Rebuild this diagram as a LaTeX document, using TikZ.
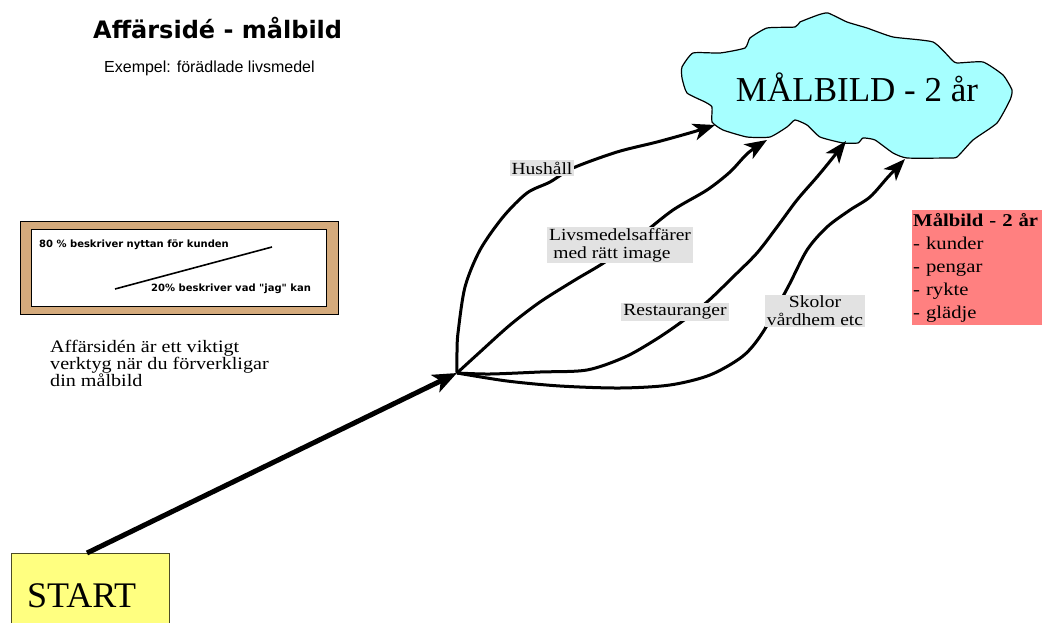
\documentclass[tikz,border=0pt]{standalone}
\usepackage{fontspec}
\setmainfont{Liberation Serif}
\newfontfamily\pal[FakeStretch=1.15]{Liberation Serif}
\newfontfamily\ttlfont{DejaVu Sans}
\newfontfamily\arialf{Liberation Sans}
\usetikzlibrary{arrows.meta}
\definecolor{cloudc}{RGB}{166,255,255}
\definecolor{tanc}{RGB}{212,170,124}
\definecolor{yelc}{RGB}{255,255,128}
\definecolor{redc}{RGB}{255,128,128}
\definecolor{lblc}{RGB}{226,226,226}
\tikzset{
  lbl/.style={fill=lblc, inner xsep=2pt, inner ysep=1.5pt, font=\pal\fontsize{17}{18}\selectfont},
  curvarrow/.style={line width=3pt, line join=round, -{Stealth[length=22pt,width=17pt,inset=6pt]}},
  mainarrow/.style={line width=5pt, -{Stealth[length=24pt,width=19pt,inset=6pt]}},
  framefont/.style={font=\ttlfont\bfseries\fontsize{10}{11}\selectfont},
  plain/.style={inner sep=0pt}
}
\begin{document}
\begin{tikzpicture}[x=1pt,y=-1pt]
\useasboundingbox (0,0) rectangle (1043,623);
% title
\node[plain, anchor=base west, font=\ttlfont\bfseries\fontsize{24}{26}\selectfont] (title) at (93,39) {Affärsidé - målbild};
\node[plain, anchor=base west, font=\arialf\fontsize{16}{18}\selectfont] (ex) at (104,73) {Exempel: förädlade livsmedel};
% frame
\draw[fill=tanc, line width=0.8pt] (20,221) rectangle (338,314);
\draw[fill=white, line width=0.8pt] (31,229) rectangle (326,306);
\node[plain, anchor=base west, framefont] (f1) at (39,247) {80 \% beskriver nyttan för kunden};
\node[plain, anchor=base west, framefont] (f2) at (151,291) {20\% beskriver vad "jag" kan};
\coordinate (la) at (115,289);
\coordinate (lb) at (272,247);
\draw[line width=1.6pt] (la) -- (lb);
% note
\node[plain, anchor=north west, align=left, font=\pal\fontsize{17.5}{17}\selectfont] (note) at (50,340) {Affärsidén är ett viktigt\\verktyg när du förverkligar\\din målbild};
% start box
\node[plain, draw=black!70!yelc, fill=yelc, line width=0.6pt, anchor=north west, minimum width=158pt, minimum height=80pt] (startbox) at (11,553) {};
\node[plain, anchor=base west, font=\fontsize{36}{38}\selectfont] (start) at (27,607) {START};
% cloud
\draw[fill=cloudc, line width=1.2pt, line join=round] plot[smooth cycle, tension=0.3] coordinates {
(682,67) (693,53) (720,53) (745,48) (750,38) (767,28) (795,27) (800,22) (818,15) (828,13) (847,22) (867,28) (893,37) (933,42) (952,60) (957,63) (983,62) (1003,75) (1012,90) (1010,100) (997,123) (973,140) (957,157) (947,158) (907,158) (893,153) (875,140) (863,138) (858,143) (843,143) (820,137) (807,125) (795,120) (787,127) (770,137) (747,137) (723,130) (712,122) (712,107) (705,102) (687,93) (682,78)};
\node[plain, anchor=base, font=\fontsize{35}{37}\selectfont] (goal) at (857,102) {MÅLBILD - 2 år};
% hub and tips
\coordinate (hub) at (457,373);
\coordinate (t1) at (715,125);
\coordinate (t2) at (767,140);
\coordinate (t3) at (846,141);
\coordinate (t4) at (905,159);
\draw[mainarrow] (startbox.north west) ++(76,0) coordinate (sa) -- (hub);
\draw[curvarrow] plot[smooth, tension=0.5] coordinates {(hub) (457,352) (458,333) (465,287) (480,250) (503,217) (527,193) (550,182) (573,168) (617,152) (657,142) (693,132) (t1)};
\draw[curvarrow] plot[smooth, tension=0.5] coordinates {(hub) (480,352) (510,325) (540,302) (575,280) (605,262) (640,236) (673,210) (707,190) (730,172) (748,153) (t2)};
\draw[curvarrow] plot[smooth, tension=0.5] coordinates {(hub) (490,374) (540,372) (587,370) (625,357) (655,340) (680,323) (707,302) (733,277) (757,253) (777,227) (797,200) (817,177) (831,160) (t3)};
\draw[curvarrow] plot[smooth, tension=0.5] coordinates {(hub) (507,381) (560,386) (620,388) (670,385) (710,375) (743,356) (763,332) (788,287) (807,250) (827,227) (850,210) (870,197) (888,177) (t4)};
% labels
\node[lbl] (l1) at (542,168) {Hushåll};
\node[lbl, align=left] (l2) at (620,245) {Livsmedelsaffärer\\\hspace{0.25em}med rätt image};
\node[lbl] (l3) at (675,312) {Restauranger};
\node[lbl, align=center] (l4) at (815,311) {Skolor\\vårdhem etc};
% red box
\node[fill=redc, anchor=north west, inner xsep=1pt, inner ysep=3pt, text width=128pt, align=left, font=\pal\fontsize{18}{23}\selectfont] (goalbox) at (912,210) {\textbf{Målbild - 2 år}\\- kunder\\- pengar\\- rykte\\- glädje};
\end{tikzpicture}
\end{document}
